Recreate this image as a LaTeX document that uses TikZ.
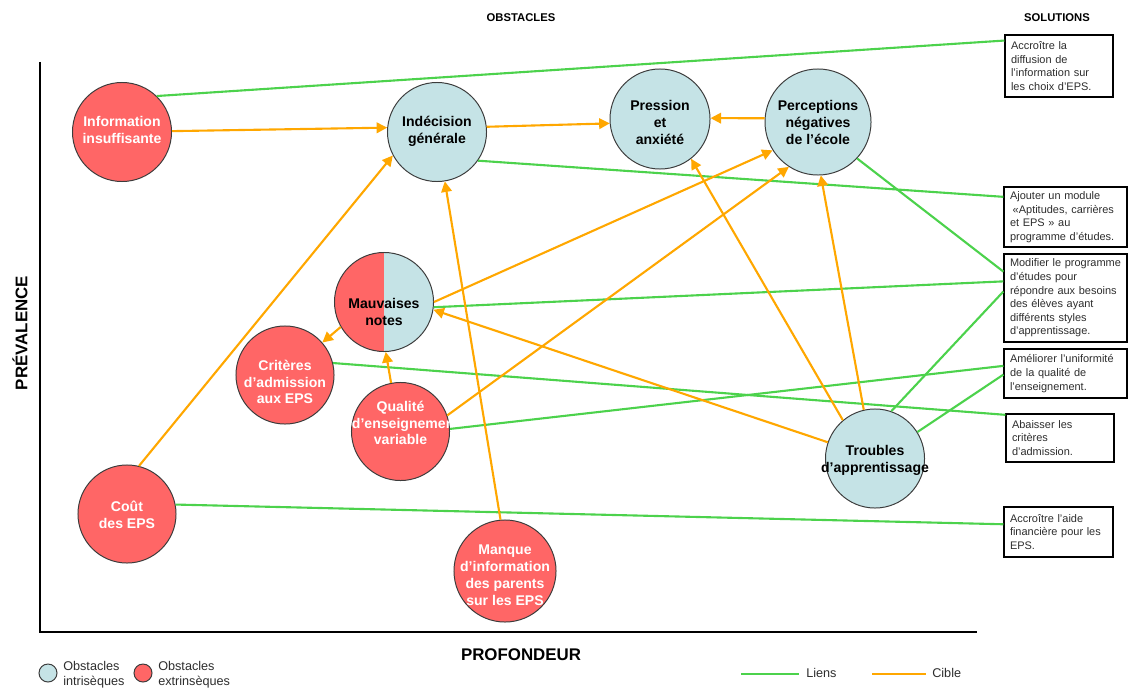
\documentclass[tikz,border=0pt]{standalone}
\usepackage{fontspec}
\setmainfont{Liberation Sans}
\usetikzlibrary{arrows.meta}
\definecolor{cred}{RGB}{255,102,102}
\definecolor{cblue}{RGB}{197,227,230}
\definecolor{cgreen}{RGB}{76,210,76}
\definecolor{corange}{RGB}{255,167,0}
\definecolor{cborder}{RGB}{60,60,60}
\definecolor{ctxt}{RGB}{45,45,45}
\begin{document}
\begin{tikzpicture}[x=0.025cm,y=-0.025cm,
  obst/.style={circle, draw=cborder, line width=0.7pt, inner sep=0pt, minimum size=#1*0.05cm},
  intr/.style={obst=#1, fill=cblue},
  extr/.style={obst=#1, fill=cred},
  ctext/.style={font=\bfseries\fontsize{10}{12}\selectfont, align=center, inner sep=0pt, text=black},
  wtext/.style={ctext, text=white},
  sol/.style={rectangle, draw=black, line width=0.8pt, inner xsep=0.15cm, inner ysep=0pt,
    align=left, text=ctxt, font=\fontsize{7.8}{9.7}\selectfont},
  link/.style={draw=cgreen, line width=1.5pt},
  cible/.style={draw=corange, line width=1.5pt, -{Triangle[length=7.5pt,width=7.5pt]}},
  head/.style={font=\bfseries\fontsize{8}{10}\selectfont},
  axlab/.style={font=\bfseries\fontsize{12}{14}\selectfont},
  leg/.style={font=\fontsize{9}{10.3}\selectfont, text=ctxt, align=left, inner sep=0pt, anchor=west}
]
\useasboundingbox (0,0) rectangle (1128,690);

% titles
\node[head] (tObs) at (521,18) {OBSTACLES};
\node[head] (tSol) at (1057,18) {SOLUTIONS};
\node[axlab, rotate=90] (tPrev) at (20,333) {PRÉVALENCE};
\node[axlab] (tProf) at (521,655) {PROFONDEUR};

% axes
\draw[line width=1.3pt] (40,62) -- (40,632) -- (977,632);

% obstacle circles
\node[extr=49.5] (info) at (122,132) {};
\node[intr=49.5] (ind) at (437,132) {};
\node[intr=50] (pres) at (660,119) {};
\node[intr=53] (perc) at (818,122) {};
\node[obst=49.5, fill=cblue, path picture={\fill[cred] (path picture bounding box.south west) rectangle (path picture bounding box.north);}] (mauv) at (384,302) {};
\node[extr=49] (crit) at (285,375) {};
\node[extr=49] (qual) at (400.5,431.5) {};
\node[intr=49.5] (troub) at (875,458.5) {};
\node[extr=49] (cout) at (127,514) {};
\node[extr=51] (manq) at (505,571) {};

% circle texts
\node[wtext] (infoT) at (122,130) {Information\\insuffisante};
\node[ctext] (indT) at (437,131) {Indécision\\générale};
\node[ctext] (presT) at (660,122.5) {Pression\\et\\anxiété};
\node[ctext] (percT) at (818,122.5) {Perceptions\\négatives\\de l’école};
\node[ctext] (mauvT) at (384,312) {Mauvaises\\notes};
\node[wtext] (critT) at (285,382) {Critères\\d’admission\\aux EPS};
\begin{scope}
  \clip (352,380) rectangle (449,485);
  \node[wtext, text width=2.425cm] (qualT) at (400.5,423) {Qualité\\d’enseignement\\variable};
\end{scope}
\node[ctext] (troubT) at (875,460) {Troubles\\d’apprentissage};
\node[wtext] (coutT) at (127,515) {Coût\\des EPS};
\node[wtext] (manqT) at (505,575.5) {Manque\\d’information\\des parents\\sur les EPS};

% solution boxes
\node[sol, minimum width=2.7cm, minimum height=1.55cm, text width=2.4cm] (b1) at (1059,66)
  {Accroître la\\diffusion de\\l’information sur\\les choix d’EPS.};
\node[sol, minimum width=3.075cm, minimum height=1.5cm, text width=2.775cm] (b2) at (1065.5,217)
  {Ajouter un module\\\hspace*{0.25em}«Aptitudes, carrières\\et EPS » au\\programme d’études.};
\node[sol, minimum width=3.075cm, minimum height=2.2cm, text width=2.775cm] (b3) at (1065.5,298)
  {Modifier le programme\\d’études pour\\répondre aux besoins\\des élèves ayant\\différents styles\\d’apprentissage.};
\node[sol, minimum width=3.075cm, minimum height=1.225cm, text width=2.775cm] (b4) at (1065.5,373.5)
  {Améliorer l’uniformité\\de la qualité de\\l’enseignement.};
\node[sol, minimum width=2.7cm, minimum height=1.2cm, text width=2.4cm] (b5) at (1060,438)
  {Abaisser les\\critères\\d’admission.};
\node[sol, minimum width=2.725cm, minimum height=1.25cm, text width=2.425cm] (b6) at (1058.5,532)
  {Accroître l’aide\\financière pour les\\EPS.};

% links (green)
\draw[link] (info.46) -- (b1.155);
\draw[link] (ind.-35) -- (b2.162);
\draw[link] (perc.-43) -- (b3.157);
\draw[link] (mauv.-6) -- (b3.165);
\draw[link] (troub.71) -- (b3.174);
\draw[link] (qual.3) -- (b4.173);
\draw[link] (troub.32) -- (b4.181);
\draw[link] (crit.14) -- (b5.157);
\draw[link] (cout.11) -- (b6.172);

% targets (orange)
\draw[cible] (info.1) -- (ind.175);
\draw[cible] (ind.6) -- (pres.185);
\draw[cible] (perc.176) -- (pres.1);
\draw[cible] (cout.76) -- (ind.208);
\draw[cible] (manq.95) -- (ind.279);
\draw[cible] (mauv.0) -- (perc.212);
\draw[cible] (qual.19) -- (perc.237);
\draw[cible] (troub.103) -- (perc.273);
\draw[cible] (troub.130) -- (pres.308);
\draw[cible] (troub.161) -- (mauv.351);
\draw[cible] (mauv.210) -- (crit.41);
\draw[cible] (qual.101) -- (mauv.272);

% legend
\node[intr=9] (legI) at (48,673) {};
\node[leg] (legIT) at (63,674.5) {Obstacles\\intrisèques};
\node[extr=9] (legE) at (143,673) {};
\node[leg] (legET) at (158,674.5) {Obstacles\\extrinsèques};
\draw[link] (741,674) -- (799,674);
\node[leg] (legL) at (806,672.5) {Liens};
\draw[draw=corange, line width=1.5pt] (872,674) -- (926,674);
\node[leg] (legC) at (932,672.5) {Cible};
\end{tikzpicture}
\end{document}
